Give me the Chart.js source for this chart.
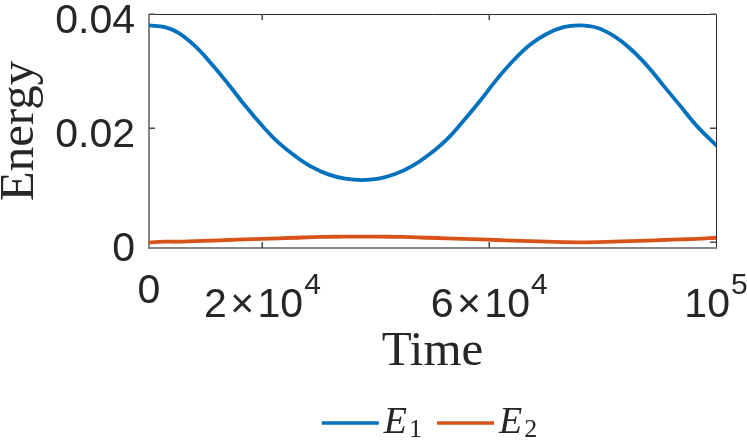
<!DOCTYPE html>
<html>
<head>
<meta charset="utf-8">
<script src="https://cdn.jsdelivr.net/npm/chart.js@4"></script>
<style>
  html, body { margin: 0; padding: 0; background: #ffffff; }
  #wrap { width: 747px; height: 440px; }
</style>
</head>
<body>
<div id="wrap"><canvas id="c" width="747" height="440"></canvas></div>
<script>
// ---- data ----
const timeValues = [0, 2800, 5200, 8100, 11000, 14000, 16900, 19900, 22800, 25800, 28700, 31600, 34600, 37500, 40500, 43400, 46300, 49300, 52500, 55400, 58400, 61300, 64300, 67200, 70100, 73100, 76000, 79000, 81900, 84800, 87800, 90700, 93700, 96600, 100000];
const e1Values = [0.0380, 0.0377, 0.0367, 0.0344, 0.0313, 0.0277, 0.0240, 0.0205, 0.0175, 0.0151, 0.0132, 0.0119, 0.01115, 0.0109, 0.01115, 0.01195, 0.0133, 0.0153, 0.0180, 0.0212, 0.0248, 0.0285, 0.0319, 0.0346, 0.0365, 0.0377, 0.0380, 0.0376, 0.0362, 0.0340, 0.0310, 0.0275, 0.0239, 0.0204, 0.0170];
const e2Values = [0.0000, 0.0001, 0.0001, 0.0002, 0.0003, 0.0004, 0.0005, 0.0006, 0.0007, 0.0008, 0.0009, 0.00095, 0.0010, 0.0010, 0.0010, 0.00095, 0.0009, 0.0008, 0.0007, 0.0006, 0.0005, 0.0004, 0.0003, 0.0002, 0.0001, 0.00003, 0.0000, 0.00003, 0.0001, 0.0002, 0.0003, 0.0004, 0.0005, 0.0006, 0.0008];
const seriesLabels = ['E_1', 'E_2'];
const seriesColors = ['#0072BD', '#D95319'];
const xTickValues = [0, 20000, 60000, 100000];
const xTickLabels = ['0', '2×10^4', '6×10^4', '10^5'];
const yTickValues = [0, 0.02, 0.04];
const yTickLabels = ['0', '0.02', '0.04'];
const xTitle = 'Time';
const yTitle = 'Energy';

const toPoints = (ys) => timeValues.map((t, i) => ({ x: t, y: ys[i] }));

const TXT = '#262626';
const SANS = '"Liberation Sans", Arial, Helvetica, sans-serif';
const SERIF = '"Liberation Serif", "Times New Roman", serif';

const matlabAxes = {
  id: 'matlabAxes',
  beforeDatasetsDraw(chart) {
    const { ctx, chartArea: a } = chart;
    const xs = chart.scales.x, ys = chart.scales.y;
    ctx.save();
    ctx.lineWidth = 1;
    ctx.strokeStyle = '#2b2b2b';
    ctx.beginPath();
    ctx.moveTo(a.left, a.top + 0.5); ctx.lineTo(a.right + 0.5, a.top + 0.5);
    ctx.lineTo(a.right + 0.5, a.bottom);
    ctx.stroke();
    ctx.lineWidth = 2;
    ctx.strokeStyle = '#858585';
    ctx.beginPath();
    ctx.moveTo(a.left, a.top); ctx.lineTo(a.left, a.bottom); ctx.lineTo(a.right + 1, a.bottom);
    ctx.stroke();
    const tl = 6;
    ctx.lineWidth = 1.5;
    ctx.strokeStyle = '#4a4a4a';
    ctx.beginPath();
    xTickValues.forEach(v => {
      const px = Math.round(xs.getPixelForValue(v)) + 0.25;
      if (px <= a.left + 2 || px >= a.right - 2) return;
      ctx.moveTo(px, a.bottom); ctx.lineTo(px, a.bottom - tl);
      ctx.moveTo(px, a.top); ctx.lineTo(px, a.top + tl);
    });
    yTickValues.forEach(v => {
      const py = Math.round(ys.getPixelForValue(v)) + 0.25;
      ctx.moveTo(a.left, py); ctx.lineTo(a.left + tl, py);
      ctx.moveTo(a.right, py); ctx.lineTo(a.right - tl, py);
    });
    ctx.stroke();
    ctx.restore();
  },
  afterDraw(chart) {
    const { ctx, chartArea: a } = chart;
    const xs = chart.scales.x, ys = chart.scales.y;
    ctx.save();
    ctx.fillStyle = TXT;
    const mainSize = 41, supSize = 30;
    ctx.font = mainSize + 'px ' + SANS;
    ctx.textAlign = 'right';
    ctx.textBaseline = 'alphabetic';
    yTickValues.forEach((v, i) => {
      const py = ys.getPixelForValue(v);
      ctx.fillText(yTickLabels[i], a.left - 14, py + 18.5);
    });
    ctx.textAlign = 'left';
    const topY = 272;
    xTickValues.forEach((v, i) => {
      const px = xs.getPixelForValue(v);
      const parts = xTickLabels[i].split('^');
      const base = parts[0].replace('×', '\u200A×\u200A'), sup = parts[1] || '';
      ctx.font = mainSize + 'px ' + SANS;
      const wb = ctx.measureText(base).width;
      ctx.font = supSize + 'px ' + SANS;
      const ws = sup ? ctx.measureText(sup).width + 1 : 0;
      const x0 = px - (wb + ws) / 2;
      if (sup) {
        const supBase = topY + supSize * 0.72;
        const mainBase = supBase + 23;
        ctx.font = mainSize + 'px ' + SANS;
        ctx.fillText(base, x0, mainBase);
        ctx.font = supSize + 'px ' + SANS;
        ctx.fillText(sup, x0 + wb + 1, supBase);
      } else {
        ctx.font = mainSize + 'px ' + SANS;
        ctx.fillText(base, x0, topY + mainSize * 0.72 + 1);
      }
    });
    ctx.font = '49px ' + SERIF;
    ctx.textAlign = 'center';
    ctx.fillText(xTitle, (a.left + a.right) / 2, 365);
    ctx.save();
    ctx.translate(33, (a.top + a.bottom) / 2);
    ctx.rotate(-Math.PI / 2);
    ctx.fillText(yTitle, 0, 0);
    ctx.restore();
    const lineLen = 57, gapLT = 5, gapItems = 15;
    const items = chart.data.datasets.map(ds => {
      const [nm, sub] = ds.label.split('_');
      ctx.font = 'italic 38px ' + SERIF;
      const wn = ctx.measureText(nm).width;
      ctx.font = '26px ' + SERIF;
      const wsb = ctx.measureText(sub || '').width;
      return { nm, sub, wn, wsb, color: ds.borderColor, w: lineLen + gapLT + wn + 2 + wsb };
    });
    const total = items.reduce((s, it) => s + it.w, 0) + gapItems * (items.length - 1);
    let x = (a.left + a.right) / 2 - total / 2 - 3;
    const ly = 423;
    ctx.textAlign = 'left';
    items.forEach(it => {
      ctx.strokeStyle = it.color;
      ctx.lineWidth = 3.5;
      ctx.beginPath(); ctx.moveTo(x, ly); ctx.lineTo(x + lineLen, ly); ctx.stroke();
      let tx = x + lineLen + gapLT;
      ctx.fillStyle = TXT;
      ctx.font = 'italic 38px ' + SERIF;
      ctx.fillText(it.nm, tx, 433);
      ctx.font = '26px ' + SERIF;
      ctx.fillText(it.sub, tx + it.wn + 2, 437);
      x += it.w + gapItems;
    });
    ctx.restore();
  }
};

new Chart(document.getElementById('c'), {
  type: 'line',
  data: {
    datasets: [
      { label: seriesLabels[0], data: toPoints(e1Values), borderColor: seriesColors[0], backgroundColor: seriesColors[0], borderWidth: 3.8, pointRadius: 0, tension: 0.4, fill: false, borderCapStyle: 'round', borderJoinStyle: 'round' },
      { label: seriesLabels[1], data: toPoints(e2Values), borderColor: seriesColors[1], backgroundColor: seriesColors[1], borderWidth: 3.8, pointRadius: 0, tension: 0.4, fill: false, borderCapStyle: 'round', borderJoinStyle: 'round' }
    ]
  },
  options: {
    responsive: false,
    animation: false,
    layout: { padding: { left: 149, right: 31, top: 14, bottom: 192 } },
    plugins: { legend: { display: false }, tooltip: { enabled: false } },
    scales: {
      x: { type: 'linear', min: 0, max: 100000, display: false },
      y: { type: 'linear', min: -0.001, max: 0.04, display: false }
    }
  },
  plugins: [matlabAxes]
});
</script>
</body>
</html>
